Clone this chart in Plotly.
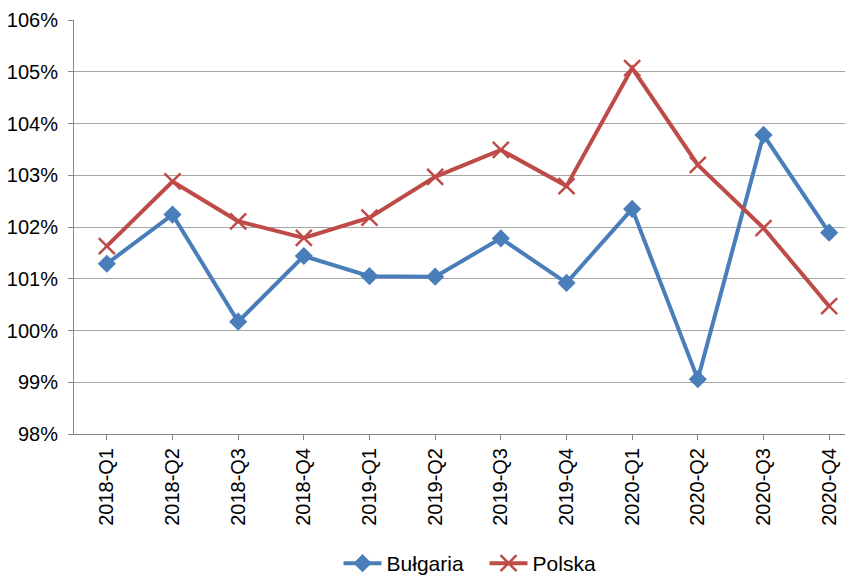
import plotly.graph_objects as go

categories = ["2018-Q1", "2018-Q2", "2018-Q3", "2018-Q4",
              "2019-Q1", "2019-Q2", "2019-Q3", "2019-Q4",
              "2020-Q1", "2020-Q2", "2020-Q3", "2020-Q4"]
bulgaria = [101.29, 102.24, 100.17, 101.44, 101.05, 101.04,
            101.78, 100.92, 102.35, 99.06, 103.78, 101.89]
polska = [101.63, 102.88, 102.11, 101.79, 102.18, 102.97,
          103.49, 102.79, 105.07, 103.20, 101.98, 100.47]
y_ticks = [98, 99, 100, 101, 102, 103, 104, 105, 106]
y_tick_labels = [f"{v}%" for v in y_ticks]

FONT = "Liberation Sans, Arial, sans-serif"

fig = go.Figure()
fig.add_trace(go.Scatter(
    x=list(range(len(categories))), y=bulgaria, name="Bułgaria",
    mode="lines+markers",
    line=dict(color="#4A7EBB", width=4),
    marker=dict(symbol="diamond", size=14, color="#4A7EBB"),
))
fig.add_trace(go.Scatter(
    x=list(range(len(categories))), y=polska, name="Polska",
    mode="lines+markers",
    line=dict(color="#BE4B48", width=4),
    marker=dict(symbol="x-thin", size=16, color="#BE4B48",
                line=dict(color="#BE4B48", width=2.5)),
))

fig.update_layout(
    width=845, height=576,
    margin=dict(l=66, r=0, t=12, b=149),
    plot_bgcolor="white", paper_bgcolor="white",
    font=dict(family=FONT, size=20, color="black"),
    showlegend=True,
    legend=dict(orientation="h", x=0.527, xanchor="center",
                y=-0.313, yanchor="middle",
                font=dict(family=FONT, size=21, color="black"),
                itemwidth=38, entrywidth=93),
    xaxis=dict(
        tickmode="array", tickvals=list(range(len(categories))),
        ticktext=categories, tickangle=-90,
        range=[-0.5, 11.363], automargin=False,
        showgrid=False, zeroline=False,
        showline=True, linecolor="#868686", linewidth=1,
        ticks="outside", ticklen=5, tickcolor="#868686",
        tickfont=dict(family=FONT, size=20, color="black"),
    ),
    yaxis=dict(
        range=[98, 106], tickmode="array", tickvals=y_ticks,
        ticktext=y_tick_labels, automargin=False,
        showgrid=True, gridcolor="#A6A6A6", gridwidth=1,
        zeroline=False,
        showline=True, linecolor="#868686", linewidth=1,
        ticks="outside", ticklen=5, tickcolor="#868686",
        tickfont=dict(family=FONT, size=20, color="black"),
        ticklabelstandoff=6,
    ),
)

fig.write_html("out.html")
